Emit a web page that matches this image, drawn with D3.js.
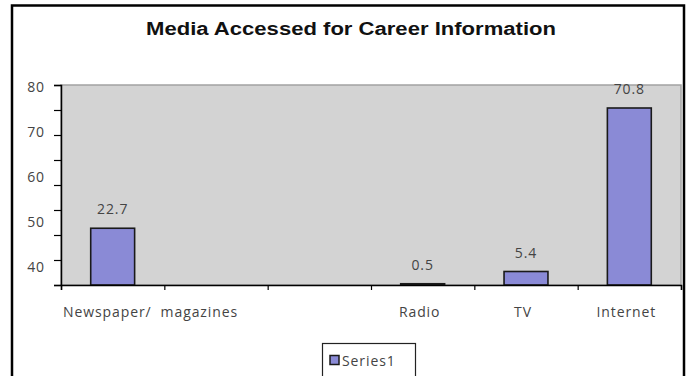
<!DOCTYPE html>
<html lang="en">
<head>
<meta charset="utf-8">
<title>Media Accessed for Career Information</title>
<script src="https://d3js.org/d3.v7.min.js"></script>
<style>
  body { margin: 0; background: #fff; }
  .title { font-family: "Liberation Sans", Arial, sans-serif; font-weight: bold; font-size: 18px; fill: #111; }
  .lbl { font-family: "Open Sans", sans-serif; font-size: 14px; letter-spacing: 0.9px; fill: #444; }
</style>
</head>
<body>
<div id="main"></div>
<script>
var width = 688, height = 376;

// data
var categories = ["Newspaper/  magazines", "", " ", "Radio", "TV", "Internet"];
var values = [22.7, null, null, 0.5, 5.4, 70.8];
var yTickLabels = [80, 70, 60, 50, 40];
var seriesName = "Series1";

var svg = d3.select("#main").append("svg")
  .attr("width", width).attr("height", height);

// outer frame (no bottom edge visible)
svg.append("path")
  .attr("d", "M12,376V5.5H684V376")
  .attr("fill", "none").attr("stroke", "#000").attr("stroke-width", 2.5);

svg.append("text").attr("class", "title")
  .attr("x", 351).attr("y", 35).attr("text-anchor", "middle")
  .attr("textLength", 410).attr("lengthAdjust", "spacingAndGlyphs")
  .text("Media Accessed for Career Information");

var x = d3.scaleBand().domain(categories).range([61, 681]).paddingInner(0.575).paddingOuter(0.2875);
var xEdges = d3.scaleLinear().domain([0, categories.length]).range([61, 681]);
var y = d3.scaleLinear().domain([0, 80]).range([285, 85]);
// the printed labels sit on their own spacing in the original
var yLab = d3.scaleLinear().domain([40, 80]).range([267, 87]);

// plot area
svg.append("rect")
  .attr("x", xEdges(0)).attr("y", y(80))
  .attr("width", xEdges(6) - xEdges(0)).attr("height", y(0) - y(80))
  .attr("fill", "#d3d3d3").attr("stroke", "#a3a3a3").attr("stroke-width", 1.5);

// bars
var data = categories.map(function(c, i) { return {c: c, v: values[i]}; }).filter(function(d) { return d.v != null; });
svg.selectAll("rect.bar").data(data).enter().append("rect")
  .attr("class", "bar")
  .attr("x", function(d) { return x(d.c); })
  .attr("y", function(d) { return y(d.v); })
  .attr("width", x.bandwidth())
  .attr("height", function(d) { return y(0) - y(d.v); })
  .attr("fill", "#8a8ad6").attr("stroke", "#1a1a1a").attr("stroke-width", 1.6);

svg.selectAll("text.val").data(data).enter().append("text")
  .attr("class", "lbl")
  .attr("x", function(d) { return x(d.c) + x.bandwidth() / 2; })
  .attr("y", function(d) { return y(d.v) - 14; })
  .attr("text-anchor", "middle")
  .attr("fill", "#333")
  .text(function(d) { return d.v; });

// y axis
var yAxis = svg.append("g").attr("transform", "translate(61,0)")
  .call(d3.axisLeft(y).tickValues(d3.range(0, 81, 10)).tickSize(7).tickFormat(""));
yAxis.select(".domain").attr("stroke", "#000").attr("stroke-width", 1.5);
yAxis.selectAll(".tick line").attr("stroke", "#000").attr("stroke-width", 1.2);

svg.selectAll("text.ylab").data(yTickLabels).enter().append("text")
  .attr("class", "lbl")
  .attr("x", 45).attr("y", function(d) { return yLab(d); })
  .attr("dy", "0.35em").attr("text-anchor", "end")
  .attr("fill", "#555")
  .text(function(d) { return d; });

// x axis
var xAxis = svg.append("g").attr("transform", "translate(0," + y(0) + ")")
  .call(d3.axisBottom(xEdges).tickValues(d3.range(0, 7)).tickSize(5).tickFormat(""));
xAxis.select(".domain").attr("stroke", "#000").attr("stroke-width", 1.5);
xAxis.selectAll(".tick line").attr("stroke", "#000").attr("stroke-width", 1.2);

svg.selectAll("text.xlab").data(categories).enter().append("text")
  .attr("class", "lbl")
  .attr("x", function(d, i) { return i === 0 ? xEdges(0) + 2 : x(d) + x.bandwidth() / 2 - 3; })
  .attr("y", 317)
  .attr("text-anchor", function(d, i) { return i === 0 ? "start" : "middle"; })
  .attr("fill", "#333")
  .attr("xml:space", "preserve")
  .style("white-space", "pre")
  .text(function(d) { return d.trim() === "" ? "" : d; });

// legend
var lg = svg.append("g");
lg.append("rect").attr("x", 322.5).attr("y", 343.5).attr("width", 93).attr("height", 40)
  .attr("fill", "#fff").attr("stroke", "#222").attr("stroke-width", 1.2);
lg.append("rect").attr("x", 330).attr("y", 355.5).attr("width", 9).attr("height", 9)
  .attr("fill", "#8a8ad6").attr("stroke", "#1a1a1a").attr("stroke-width", 1.5);
lg.append("text").attr("class", "lbl").attr("x", 342).attr("y", 366)
  .attr("fill", "#333").text(seriesName);
</script>
</body>
</html>
